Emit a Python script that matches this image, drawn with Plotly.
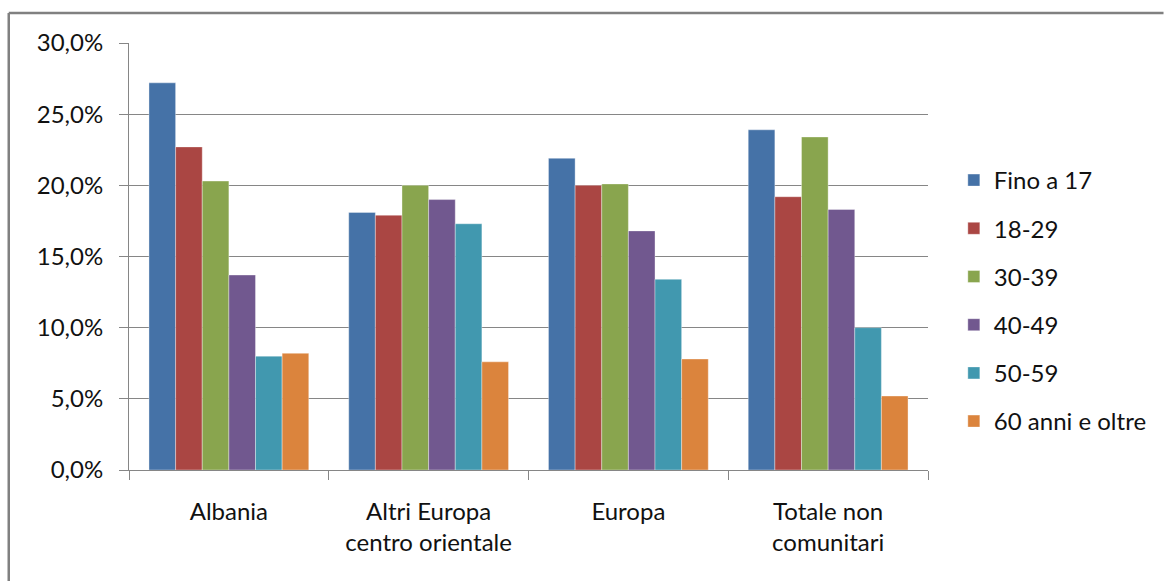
import plotly.graph_objects as go

categories = ["Albania", "Altri Europa<br>centro orientale", "Europa", "Totale non<br>comunitari"]
series_names = ["Fino a 17", "18-29", "30-39", "40-49", "50-59", "60 anni e oltre"]

fino_a_17 = [27.2, 18.1, 21.9, 23.9]
s18_29 = [22.7, 17.9, 20.0, 19.2]
s30_39 = [20.3, 20.0, 20.1, 23.4]
s40_49 = [13.7, 19.0, 16.8, 18.3]
s50_59 = [8.0, 17.3, 13.4, 10.0]
s60_oltre = [8.2, 7.6, 7.8, 5.2]

y_ticks = [0, 5, 10, 15, 20, 25, 30]
y_tick_labels = ["0,0%", "5,0%", "10,0%", "15,0%", "20,0%", "25,0%", "30,0%"]

colors = ["#4572A7", "#AA4643", "#89A54E", "#71588F", "#4198AF", "#DB843D"]
all_series = [fino_a_17, s18_29, s30_39, s40_49, s50_59, s60_oltre]

W, H = 1164, 581
L, R, T, B = 129, 933, 43, 470
pw, ph = R - L, B - T

font = "Lato, 'Open Sans', sans-serif"

fig = go.Figure()
for i, (name, vals) in enumerate(zip(series_names, all_series)):
    fig.add_trace(go.Bar(
        x=categories, y=vals, name=name,
        marker=dict(color=colors[i], line=dict(width=0.6, color="rgba(255,255,255,0.6)")),
        legendgroup=f"g{i}",
    ))

def px_x(p):
    return (p - L) / pw

def px_y(p):
    return (B - p) / ph

fig.update_layout(
    width=W, height=H,
    margin=dict(l=L, r=W - R, t=T, b=H - B, pad=0),
    paper_bgcolor="white", plot_bgcolor="white",
    barmode="group", bargap=0.2, bargroupgap=0,
    font=dict(family=font, size=24, color="#111111"),
    legend=dict(
        x=px_x(959), y=px_y(158), xanchor="left", yanchor="top",
        traceorder="grouped", tracegroupgap=14,
        font=dict(size=24, family=font, color="#111111"),
        bgcolor="rgba(0,0,0,0)",
    ),
    xaxis=dict(
        showline=True, linecolor="#868686", linewidth=1,
        ticks="outside", tickson="boundaries", ticklen=9, tickcolor="#868686",
        ticklabelstandoff=20, showgrid=False,
        tickfont=dict(size=24),
    ),
    yaxis=dict(
        range=[0, 30], tickvals=y_ticks, ticktext=y_tick_labels,
        showline=True, linecolor="#868686", linewidth=1,
        ticks="outside", ticklen=9, tickcolor="#868686",
        showgrid=True, gridcolor="#868686", gridwidth=1,
        zeroline=False, ticklabelstandoff=11,
        tickfont=dict(size=24),
    ),
    shapes=[
        dict(type="line", xref="paper", yref="paper",
             x0=px_x(8), x1=px_x(1170), y0=px_y(13), y1=px_y(13),
             line=dict(color="#808080", width=2.5)),
        dict(type="line", xref="paper", yref="paper",
             x0=px_x(8), x1=px_x(8), y0=px_y(13), y1=px_y(590),
             line=dict(color="#808080", width=2.5)),
    ],
)

fig.write_html(
    "out.html",
    config={"displayModeBar": False},
    post_script="document.body.style.margin='0';document.body.style.overflow='hidden';",
)
